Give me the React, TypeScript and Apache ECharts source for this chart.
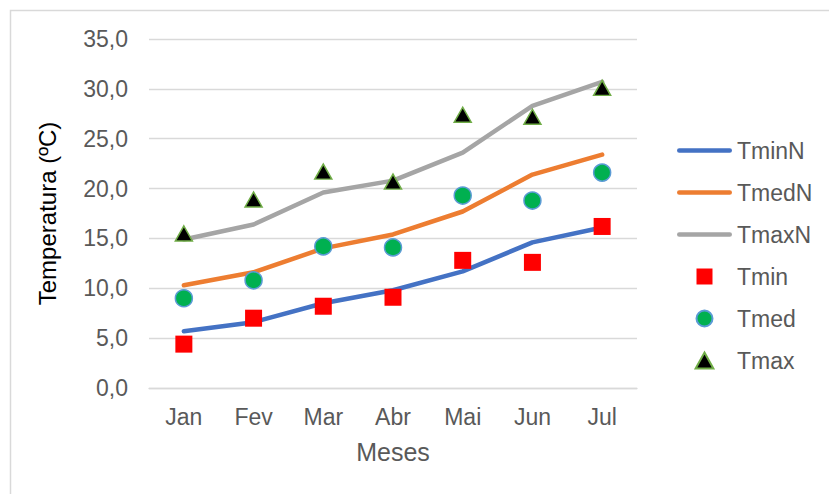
import React, { useEffect, useRef } from "react";
import * as echarts from "echarts";

const months = ["Jan", "Fev", "Mar", "Abr", "Mai", "Jun", "Jul"];
const tminN = [5.7, 6.6, 8.5, 9.8, 11.7, 14.6, 16.1];
const tmedN = [10.3, 11.6, 14.0, 15.4, 17.7, 21.4, 23.4];
const tmaxN = [14.9, 16.4, 19.6, 20.8, 23.6, 28.3, 30.7];
const tmin = [4.4, 7.0, 8.2, 9.1, 12.8, 12.6, 16.2];
const tmed = [9.0, 10.8, 14.2, 14.1, 19.3, 18.8, 21.6];
const tmax = [15.5, 18.9, 21.7, 20.7, 27.4, 27.2, 30.1];

const FONT = "'Liberation Sans', Arial, sans-serif";
const GRAY_TXT = "#595959";
const LINE_ICON = "path://M2.25,0L52.75,0A2.25,2.25,0,0,1,52.75,4.5L2.25,4.5A2.25,2.25,0,0,1,2.25,0Z";

export default function App() {
  const ref = useRef<HTMLDivElement>(null);
  useEffect(() => {
    if (!ref.current) return;
    const chart = echarts.init(ref.current, undefined, { renderer: "svg" });
    const lineSeries = (name: string, data: number[], color: string) => ({
      name,
      type: "line",
      data,
      symbol: "none",
      lineStyle: { color, width: 4.5, cap: "round", join: "round" },
      itemStyle: { color },
      z: 2,
    });
    chart.setOption({
      animation: false,
      backgroundColor: "#ffffff",
      textStyle: { fontFamily: FONT },
      graphic: [
        {
          type: "rect",
          shape: { x: 10.5, y: 10.5, width: 900, height: 600 },
          style: { fill: "none", stroke: "#D9D9D9", lineWidth: 1.5 },
          silent: true,
        },
      ],
      grid: { left: 149, right: 192, top: 39, bottom: 106 },
      legend: {
        orient: "vertical",
        left: 672,
        top: 134,
        itemWidth: 55,
        itemHeight: 16,
        itemGap: 19,
        textStyle: { color: GRAY_TXT, fontSize: 23, fontFamily: FONT },
        data: [
          { name: "TminN", icon: LINE_ICON, itemStyle: { color: "#4472C4", borderWidth: 0 } },
          { name: "TmedN", icon: LINE_ICON, itemStyle: { color: "#ED7D31", borderWidth: 0 } },
          { name: "TmaxN", icon: LINE_ICON, itemStyle: { color: "#A5A5A5", borderWidth: 0 } },
          { name: "Tmin", icon: "path://M0,0L10,0L10,10L0,10Z" },
          { name: "Tmed", icon: "path://M5,0A5,5,0,1,1,5,10A5,5,0,1,1,5,0Z" },
          { name: "Tmax", icon: "path://M5,0L10,9L0,9Z" },
        ],
      },
      xAxis: {
        type: "category",
        data: months,
        boundaryGap: true,
        axisLine: { lineStyle: { color: "#D9D9D9", width: 1.3 } },
        axisTick: { show: false },
        axisLabel: { color: GRAY_TXT, fontSize: 23, margin: 17, fontFamily: FONT },
        name: "Meses",
        nameLocation: "middle",
        nameGap: 51,
        nameTextStyle: { color: GRAY_TXT, fontSize: 25, fontFamily: FONT },
      },
      yAxis: {
        type: "value",
        min: 0,
        max: 35,
        interval: 5,
        axisLine: { show: false },
        axisTick: { show: false },
        splitLine: { lineStyle: { color: "#D9D9D9", width: 1.3 } },
        axisLabel: {
          color: GRAY_TXT,
          fontSize: 23,
          margin: 21,
          fontFamily: FONT,
          formatter: (v: number) => v.toFixed(1).replace(".", ","),
        },
        name: "Temperatura (ºC)",
        nameLocation: "middle",
        nameGap: 90,
        nameTextStyle: { color: "#000000", fontSize: 24, fontFamily: FONT },
      },
      series: [
        lineSeries("TminN", tminN, "#4472C4"),
        lineSeries("TmedN", tmedN, "#ED7D31"),
        lineSeries("TmaxN", tmaxN, "#A5A5A5"),
        {
          name: "Tmin",
          type: "scatter",
          data: tmin,
          symbol: "rect",
          symbolSize: 17,
          itemStyle: { color: "#FF0000", opacity: 1 },
          z: 3,
        },
        {
          name: "Tmed",
          type: "scatter",
          data: tmed,
          symbol: "circle",
          symbolSize: 17,
          itemStyle: { color: "#00B050", borderColor: "#5B9BD5", borderWidth: 1.5, opacity: 1 },
          z: 3,
        },
        {
          name: "Tmax",
          type: "scatter",
          data: tmax,
          symbol: "triangle",
          symbolSize: [17, 15],
          itemStyle: { color: "#000000", borderColor: "#70AD47", borderWidth: 1.5, opacity: 1 },
          z: 3,
        },
      ],
    });
    return () => chart.dispose();
  }, []);
  return (
    <div
      ref={ref}
      style={{ position: "fixed", left: 0, top: 0, width: 829, height: 494, background: "#fff" }}
    />
  );
}
